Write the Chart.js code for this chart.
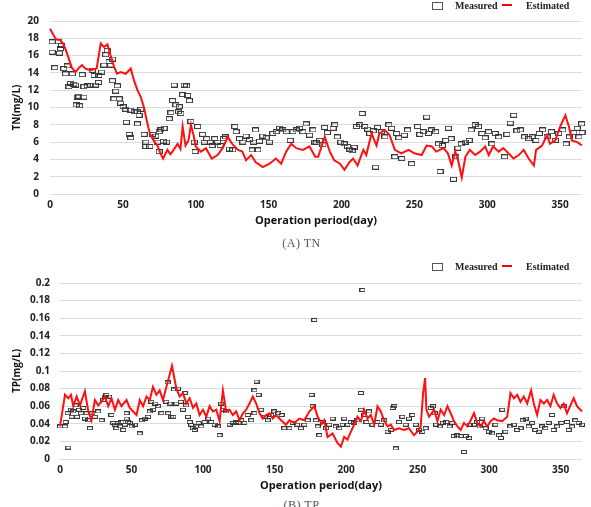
<!DOCTYPE html>
<html>
<head>
<meta charset="utf-8">
<script src="https://cdn.jsdelivr.net/npm/chart.js@4.4.0/dist/chart.umd.min.js"></script>
<style>
  html, body { margin: 0; padding: 0; background: #fff; }
  #wrap { position: relative; width: 591px; height: 507px; overflow: hidden; background: #fff; }
  canvas { position: absolute; left: 0; }
  .legend { position: absolute; left: 0; width: 591px; height: 12px; font-family: "Liberation Serif", serif; font-size: 10px; font-weight: bold; color: #222; }
  .legend .box { position: absolute; left: 432px; width: 9px; height: 6px; border: 1px solid #555; }
  .legend .line { position: absolute; left: 502px; width: 10px; height: 2px; background: #ff0000; }
  .legend span { position: absolute; line-height: 10px; }
  .caption { position: absolute; left: 0; width: 603px; text-align: center; font-family: "Liberation Serif", serif; font-size: 12px; color: #555; letter-spacing: 0.5px; }
</style>
</head>
<body>
<div id="wrap">
  <canvas id="tnChart" width="591" height="230" style="top:0"></canvas>
  <canvas id="tpChart" width="591" height="245" style="top:250px"></canvas>

  <div class="legend" style="top:0">
    <div class="box" style="top:2px"></div><span style="left:455px;top:1px">Measured</span>
    <div class="line" style="top:4px"></div><span style="left:526px;top:1px">Estimated</span>
  </div>
  <div class="legend" style="top:261px">
    <div class="box" style="top:2px"></div><span style="left:455px;top:1px">Measured</span>
    <div class="line" style="top:4px"></div><span style="left:526px;top:1px">Estimated</span>
  </div>

  <div class="caption" style="top:236px">(A) TN</div>
  <div class="caption" style="top:498px">(B) TP</div>
</div>

<script>
(function() {
  var xTickValues = [0, 50, 100, 150, 200, 250, 300, 350];

  // TN - estimated (red line)
  var tnEstDays = [0, 2, 4, 7, 9, 11, 13, 15, 17.5, 20, 22, 24.3, 27.8, 32, 34.8, 37, 39.4, 41.6, 44, 46, 48.5, 52, 55.4, 57.7, 60, 62.3, 64.5, 66.5, 68.5, 71, 74, 76, 77.6, 80.6, 82.5, 84, 87.5, 89.5, 91, 93, 95, 96.7, 98.5, 100, 103.6, 107, 111, 115, 118.5, 122, 125, 129, 132, 134.5, 138, 141, 146, 150.6, 155, 158.6, 162, 165.5, 169, 173.6, 178, 182, 184, 188.5, 192, 195, 199, 202, 205.6, 208, 211, 215, 217, 220.6, 224, 226, 229.7, 233, 236.6, 241, 246, 250, 255, 258.4, 262, 265, 270, 273, 275.6, 278, 280, 282.5, 285, 288, 291.7, 295, 298.6, 301, 304, 307.8, 311, 314.6, 318, 321.7, 325, 328.4, 332, 333.5, 337.6, 341, 343, 346.7, 350, 353.6, 356, 358, 361.7, 365];
  var tnEstValues = [19.1, 18.5, 17.9, 17.8, 17.4, 16.6, 15.6, 14.6, 14.1, 14.6, 14.9, 14.5, 14.3, 14.5, 17.4, 17.0, 17.3, 16.0, 14.7, 13.9, 14.1, 13.9, 14.5, 13.1, 12.0, 11.2, 10.0, 8.4, 7.0, 6.2, 5.5, 4.6, 4.1, 5.1, 4.6, 4.9, 5.8, 5.2, 7.8, 5.6, 6.2, 8.0, 6.8, 5.5, 4.9, 5.3, 4.1, 4.5, 5.3, 6.6, 5.8, 5.1, 4.9, 3.9, 4.5, 3.7, 3.1, 3.5, 4.1, 3.5, 4.9, 5.8, 5.3, 5.1, 5.5, 4.3, 4.3, 6.6, 4.9, 3.9, 3.5, 2.8, 3.7, 4.1, 3.3, 5.1, 4.5, 7.0, 5.6, 7.0, 7.4, 6.8, 5.1, 4.7, 5.1, 4.7, 4.5, 5.6, 5.5, 4.9, 5.3, 4.7, 3.3, 4.9, 3.9, 1.9, 4.3, 5.1, 4.5, 4.9, 5.5, 4.5, 5.5, 4.9, 5.3, 4.7, 4.1, 4.5, 5.1, 4.1, 3.3, 5.1, 5.6, 6.8, 5.8, 6.2, 7.8, 9.1, 7.8, 6.2, 6.0, 5.6];

  // TN - measured (squares)
  var tnMeasDays = [1.5, 1.5, 5.6, 6.5, 7.9, 7.2, 3.3, 9.5, 11.8, 10.7, 15.3, 14.1, 16.4, 13, 17.5, 19.8, 23.3, 18.7, 18, 20.3, 22.1, 23.3, 25.6, 27.9, 29, 30.2, 31.3, 33.2, 33.6, 35.4, 37, 38.2, 39.3, 40.5, 41.6, 42.8, 42.8, 46.2, 45.1, 43.9, 47.4, 48.5, 50.1, 52, 55.4, 57.7, 60, 62.3, 61.1, 52.4, 60, 54.3, 55.4, 64.6, 65.7, 65.7, 68.5, 70.3, 72.6, 74.9, 76.1, 78.3, 73.8, 74.9, 77.7, 80, 81.8, 83, 85.2, 84.1, 86.4, 88.7, 88.2, 89.8, 92.1, 93.7, 91, 94.4, 95.6, 96.7, 101.3, 99, 99.5, 104.7, 105.9, 107.5, 109.8, 111.2, 113, 115, 116.7, 119, 120.4, 123.1, 125.4, 126.8, 127.7, 130, 132.3, 134.5, 136.9, 138.7, 139.6, 141, 142.6, 143.7, 146, 148.3, 150.6, 152.9, 155.2, 157.5, 159.8, 162.1, 164.8, 166.7, 168.9, 171.3, 173.5, 175.8, 178.1, 180.4, 181.8, 182.7, 185, 187.3, 188.4, 190.3, 195.4, 194.2, 197.2, 199.5, 201.8, 204.1, 205.7, 207.3, 208.7, 210.3, 212.6, 214.2, 216, 217.9, 219.4, 221.7, 223.4, 224.7, 227.5, 229.8, 232.5, 234.4, 236.6, 237.8, 239.4, 241.3, 243.1, 245.4, 248.1, 252.2, 253.8, 256.1, 258.4, 259.6, 261.8, 264.6, 266.5, 267.6, 269.2, 271.5, 273.3, 275.2, 276.8, 278.4, 279.8, 282.1, 284.8, 287.6, 289, 291.7, 294, 296.3, 298.6, 300.9, 303.2, 305.5, 307.8, 311.9, 313.5, 315.8, 318.1, 320.4, 322.7, 325.6, 328.4, 330.7, 333.4, 335.7, 338, 341, 344, 346.7, 349, 351.8, 354.1, 356.4, 359.4, 361.7, 362.9, 364.7, 365];
  var tnMeasValues = [17.6, 16.4, 17.6, 16.3, 17.2, 16.8, 14.6, 14.5, 14.8, 13.9, 13.9, 12.8, 12.7, 12.4, 12.6, 11.3, 11.2, 11.2, 10.3, 10.2, 13.8, 12.4, 12.5, 12.6, 14.3, 13.7, 12.6, 12.9, 13.7, 14.1, 14.9, 16.1, 16.6, 15.3, 14.9, 15.6, 13.1, 12.5, 11.9, 11.0, 11.0, 10.5, 10.1, 9.8, 9.7, 9.5, 9.5, 9.8, 9.1, 8.3, 8.1, 6.9, 6.5, 6.9, 6.0, 5.5, 5.5, 6.9, 6.7, 7.2, 7.4, 7.6, 6.0, 4.9, 6.1, 6.0, 8.7, 9.4, 12.6, 10.8, 10.3, 10.1, 9.5, 9.3, 12.6, 12.5, 11.5, 11.4, 10.8, 8.4, 7.8, 6.0, 4.9, 6.9, 6.0, 6.4, 6.0, 5.6, 6.4, 6.0, 5.6, 6.4, 6.6, 5.2, 5.1, 7.8, 7.2, 6.4, 6.0, 6.7, 6.3, 5.1, 6.0, 7.4, 5.1, 6.1, 6.7, 6.5, 6.0, 7.0, 7.2, 7.6, 7.4, 7.2, 6.2, 7.2, 7.4, 7.6, 7.2, 8.1, 6.8, 7.4, 6.0, 5.9, 6.2, 5.7, 7.7, 7.1, 8.0, 7.6, 6.6, 6.0, 5.8, 5.5, 5.2, 5.0, 5.4, 7.8, 8.0, 9.3, 7.8, 7.5, 7.0, 7.3, 3.1, 7.7, 7.2, 6.6, 8.0, 7.6, 4.3, 7.0, 6.5, 4.1, 6.8, 7.4, 3.5, 7.8, 6.9, 7.2, 8.9, 7.0, 7.4, 7.2, 5.8, 2.6, 5.6, 6.2, 7.6, 6.4, 1.7, 4.3, 5.3, 5.8, 6.0, 6.2, 7.4, 8.0, 7.8, 7.0, 6.5, 7.2, 5.8, 7.0, 6.6, 4.3, 6.9, 8.2, 9.1, 7.3, 7.4, 6.6, 6.4, 6.6, 6.2, 7.0, 7.4, 6.6, 7.2, 6.2, 7.0, 7.4, 5.8, 6.6, 7.1, 7.6, 6.6, 8.1, 7.1];

  // TP - estimated (red line)
  var tpEstDays = [0, 3.5, 5.8, 7.7, 9.3, 11.6, 14, 17.4, 19.8, 22, 24.4, 26.7, 29, 31.4, 33.7, 36, 38.4, 40.7, 43, 46.5, 48.8, 51.1, 53.5, 55.8, 58.1, 60.5, 62.8, 65, 67.4, 69.7, 72, 74.4, 76.7, 78.3, 79.7, 81.4, 83.7, 86, 88.3, 90.7, 93, 95.3, 97.6, 100, 102.3, 104.6, 107, 109.3, 111.6, 113.9, 116.2, 118.6, 120.9, 123.2, 125.5, 127.9, 130.2, 132.5, 134.8, 137.2, 139.5, 141.8, 144.1, 146.5, 148.8, 151, 154.6, 158, 160.4, 163.9, 167.4, 170.8, 174.3, 177.8, 180.2, 183, 184.8, 187.1, 190.6, 194.1, 196.4, 198.7, 201, 203.4, 205.7, 208, 210.4, 212.7, 215, 217.3, 219.7, 222, 224.3, 226.6, 229, 231.3, 233.6, 237, 240.6, 244, 247.5, 249.9, 252.2, 253.9, 255.3, 256.2, 258.1, 261.6, 263.9, 266.2, 268.6, 270.9, 273.2, 275.5, 277.9, 280.2, 282.5, 284.8, 287.2, 289.5, 291.8, 294.1, 296.4, 298.8, 301.1, 303.4, 305.7, 309.2, 312.7, 315, 317.4, 319.7, 322, 324.3, 326.7, 329.4, 331.3, 333.6, 335.9, 338.3, 340.6, 342.9, 345.2, 347.6, 349.9, 352.2, 354.5, 356.9, 359.2, 361.5, 365];
  var tpEstValues = [0.037, 0.073, 0.069, 0.073, 0.060, 0.071, 0.061, 0.077, 0.054, 0.044, 0.067, 0.061, 0.065, 0.071, 0.060, 0.069, 0.056, 0.067, 0.060, 0.067, 0.058, 0.054, 0.050, 0.067, 0.060, 0.071, 0.067, 0.082, 0.073, 0.078, 0.067, 0.082, 0.096, 0.106, 0.094, 0.080, 0.071, 0.075, 0.063, 0.069, 0.058, 0.063, 0.050, 0.056, 0.048, 0.060, 0.054, 0.056, 0.043, 0.078, 0.054, 0.056, 0.050, 0.054, 0.044, 0.052, 0.056, 0.063, 0.071, 0.063, 0.052, 0.046, 0.050, 0.052, 0.046, 0.050, 0.044, 0.039, 0.044, 0.041, 0.046, 0.044, 0.054, 0.060, 0.048, 0.040, 0.044, 0.025, 0.029, 0.018, 0.014, 0.025, 0.022, 0.031, 0.039, 0.048, 0.043, 0.056, 0.046, 0.050, 0.039, 0.060, 0.054, 0.044, 0.037, 0.039, 0.033, 0.035, 0.033, 0.035, 0.027, 0.031, 0.037, 0.075, 0.092, 0.056, 0.048, 0.056, 0.043, 0.056, 0.050, 0.060, 0.052, 0.043, 0.037, 0.033, 0.041, 0.037, 0.044, 0.052, 0.041, 0.037, 0.043, 0.037, 0.043, 0.046, 0.044, 0.043, 0.048, 0.075, 0.069, 0.073, 0.065, 0.071, 0.063, 0.078, 0.063, 0.050, 0.067, 0.063, 0.067, 0.060, 0.073, 0.063, 0.058, 0.063, 0.052, 0.061, 0.069, 0.060, 0.054];

  // TP - measured (squares)
  var tpMeasDays = [0, 3.5, 5.8, 3.9, 5.3, 7.7, 9.3, 8.1, 10.9, 11.9, 13.3, 14.6, 16.3, 17.4, 18.6, 19.8, 20.9, 22.6, 24.4, 26.7, 29.1, 30.2, 31.4, 32.5, 34.2, 36, 37.2, 38.4, 39.5, 40.7, 42.1, 43, 44.2, 45.3, 46.5, 47.7, 48.8, 50, 52.3, 46.5, 55.8, 57.4, 59.3, 61.6, 62.8, 63.9, 65.1, 66.7, 68.6, 70.9, 75.2, 74.4, 75.6, 76.7, 77.9, 79.3, 79.7, 81.4, 82.5, 84.4, 86, 87.2, 88.3, 89.5, 90.7, 91.8, 93, 94.1, 95.3, 96.9, 98.8, 101.1, 103.5, 105.8, 108.1, 110.4, 111.6, 112.7, 113.9, 116.2, 118.6, 120.9, 123.2, 124.8, 126.7, 129, 131.3, 133.7, 136, 136, 137.4, 138.8, 140.6, 143, 145.3, 147.6, 149.9, 152.7, 155, 156.9, 160.4, 162.7, 165.7, 168.5, 170.8, 173.2, 175.9, 176.7, 177.8, 179, 180.2, 181.3, 183.6, 186, 188.3, 190.6, 192.9, 195.3, 197.6, 198.7, 201, 203.4, 205.7, 208, 210.4, 210.4, 211.5, 212.7, 214.3, 216.1, 218.5, 222, 224.3, 226.6, 229, 231.3, 232.5, 233.8, 234.8, 237, 239.4, 241.7, 244, 246.4, 248.7, 251, 253.4, 255.7, 259.2, 260.8, 262, 263.1, 265.5, 267.8, 270.1, 272.4, 274.3, 275.4, 277.8, 280.1, 282.5, 283.6, 286, 286.4, 289.4, 291.7, 293.4, 295.2, 297.6, 299.9, 302.2, 304.5, 306.9, 308.3, 309.2, 311.5, 315, 317.4, 319.7, 322, 323.6, 325.5, 327.8, 330.1, 332.4, 334.7, 337.1, 339.4, 341.7, 344, 345.2, 347.6, 350.6, 352.2, 354.5, 355.7, 358, 360.3, 362.6, 365];
  var tpMeasValues = [0.037, 0.037, 0.013, 0.042, 0.052, 0.056, 0.054, 0.048, 0.061, 0.048, 0.056, 0.052, 0.058, 0.046, 0.052, 0.044, 0.035, 0.052, 0.048, 0.054, 0.044, 0.067, 0.071, 0.073, 0.071, 0.050, 0.041, 0.039, 0.035, 0.041, 0.037, 0.042, 0.033, 0.039, 0.046, 0.042, 0.041, 0.037, 0.039, 0.052, 0.029, 0.044, 0.046, 0.048, 0.054, 0.065, 0.056, 0.063, 0.060, 0.052, 0.087, 0.065, 0.052, 0.063, 0.048, 0.048, 0.079, 0.063, 0.080, 0.065, 0.056, 0.075, 0.061, 0.048, 0.042, 0.039, 0.035, 0.033, 0.037, 0.041, 0.037, 0.042, 0.046, 0.042, 0.039, 0.037, 0.027, 0.063, 0.056, 0.054, 0.039, 0.041, 0.042, 0.041, 0.044, 0.041, 0.050, 0.044, 0.052, 0.078, 0.088, 0.073, 0.056, 0.048, 0.044, 0.050, 0.054, 0.052, 0.050, 0.035, 0.035, 0.041, 0.039, 0.035, 0.039, 0.044, 0.073, 0.060, 0.158, 0.044, 0.037, 0.027, 0.042, 0.035, 0.039, 0.046, 0.037, 0.035, 0.039, 0.046, 0.039, 0.042, 0.041, 0.044, 0.056, 0.075, 0.192, 0.050, 0.042, 0.054, 0.039, 0.042, 0.039, 0.044, 0.031, 0.033, 0.058, 0.060, 0.012, 0.042, 0.048, 0.039, 0.046, 0.050, 0.039, 0.033, 0.031, 0.035, 0.058, 0.060, 0.052, 0.039, 0.037, 0.041, 0.042, 0.037, 0.041, 0.026, 0.027, 0.026, 0.008, 0.026, 0.024, 0.039, 0.039, 0.042, 0.037, 0.046, 0.035, 0.031, 0.029, 0.039, 0.027, 0.024, 0.056, 0.031, 0.037, 0.039, 0.033, 0.035, 0.044, 0.046, 0.037, 0.041, 0.033, 0.031, 0.037, 0.035, 0.041, 0.050, 0.033, 0.037, 0.041, 0.060, 0.042, 0.033, 0.037, 0.044, 0.041, 0.039];

  function toPoints(days, values) {
    var pts = [];
    for (var i = 0; i < days.length; i++) pts.push({ x: days[i], y: values[i] });
    return pts;
  }

  function makeBox(w, h) {
    var c = document.createElement('canvas');
    c.width = w;
    c.height = h;
    var g = c.getContext('2d');
    g.strokeStyle = '#3a3a3a';
    g.lineWidth = 1;
    g.strokeRect(0.5, 0.5, w - 1, h - 1);
    return c;
  }

  var tickFont = { family: '"Open Sans", sans-serif', size: 10, weight: 'bold' };
  var titleFont = { family: '"Open Sans", sans-serif', size: 11, weight: 'bold' };

  function buildChart(canvasId, cfg) {
    return new Chart(document.getElementById(canvasId), {
      type: 'scatter',
      data: {
        datasets: [
          {
            label: 'Measured',
            data: toPoints(cfg.measDays, cfg.measValues),
            pointStyle: cfg.box,
            pointRadius: 3,
            order: 2,
            clip: false
          },
          {
            label: 'Estimated',
            type: 'line',
            data: toPoints(cfg.estDays, cfg.estValues),
            borderColor: '#ff1010',
            borderWidth: 2,
            pointRadius: 0,
            tension: 0,
            order: 1,
            clip: false
          }
        ]
      },
      options: {
        responsive: false,
        animation: false,
        layout: { padding: { top: cfg.padTop, right: 9, left: 0, bottom: 0 } },
        plugins: { legend: { display: false }, tooltip: { enabled: false } },
        scales: {
          x: {
            type: 'linear',
            min: 0,
            max: 365,
            grid: { display: false, drawTicks: false },
            border: { display: false },
            afterBuildTicks: function(scale) {
              scale.ticks = xTickValues.map(function(v) { return { value: v }; });
            },
            afterFit: function(scale) { scale.height = 36; },
            ticks: { font: tickFont, color: '#222', padding: 5, maxRotation: 0 },
            title: { display: true, text: 'Operation period(day)', font: titleFont, color: '#111', padding: { top: 0, bottom: 3 } }
          },
          y: {
            min: 0,
            max: cfg.yMax,
            grid: { color: '#dcdcdc', lineWidth: 1, drawTicks: false },
            border: { display: false },
            afterFit: function(scale) { scale.width = cfg.axisWidth; },
            ticks: {
              stepSize: cfg.yStep,
              font: tickFont,
              color: '#222',
              padding: cfg.tickPad,
              callback: function(v) { return String(parseFloat(v.toFixed(2))); }
            },
            title: { display: true, text: cfg.yTitle, font: { family: '"Open Sans", sans-serif', size: 10, weight: 'bold' }, color: '#111', padding: { top: 11, bottom: 0 } }
          }
        }
      }
    });
  }

  buildChart('tnChart', {
    measDays: tnMeasDays, measValues: tnMeasValues,
    estDays: tnEstDays, estValues: tnEstValues,
    box: makeBox(7, 5), padTop: 21, yMax: 20, yStep: 2,
    axisWidth: 50, tickPad: 11, yTitle: 'TN(mg/L)'
  });

  buildChart('tpChart', {
    measDays: tpMeasDays, measValues: tpMeasValues,
    estDays: tpEstDays, estValues: tpEstValues,
    box: makeBox(6, 4), padTop: 33, yMax: 0.2, yStep: 0.02,
    axisWidth: 60, tickPad: 10, yTitle: 'TP(mg/L)'
  });
})();
</script>
</body>
</html>
